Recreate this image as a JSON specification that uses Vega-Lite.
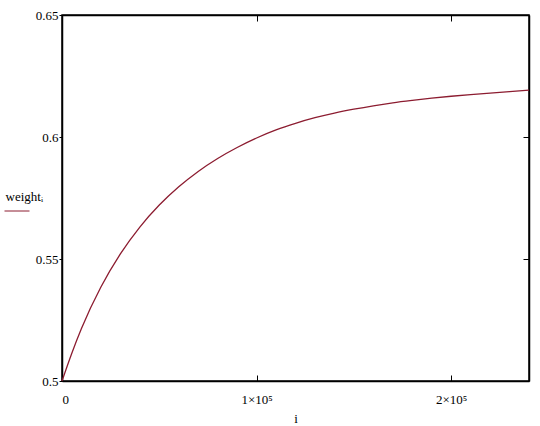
{
  "$schema": "https://vega.github.io/schema/vega-lite/v6.json",
  "autosize": "none",
  "width": 467,
  "height": 366,
  "padding": {"left": 62, "top": 15, "right": 11, "bottom": 45},
  "background": "white",
  "config": {
    "view": {"stroke": "black", "strokeWidth": 1.5},
    "font": "Liberation Serif",
    "axis": {"labelFont": "Liberation Serif", "titleFont": "Liberation Serif", "labelColor": "black", "titleColor": "black", "labelFontSize": 13, "titleFontSize": 13, "titleFontWeight": "normal", "grid": false, "domainColor": "black", "tickColor": "black", "domainWidth": 1.5, "tickWidth": 1}
  },
  "data": {"values": [
    {"i": 0, "w": 0.5},
    {"i": 5000, "w": 0.5113},
    {"i": 10000, "w": 0.5215},
    {"i": 20000, "w": 0.5385},
    {"i": 30000, "w": 0.5521},
    {"i": 40000, "w": 0.5631},
    {"i": 50000, "w": 0.5721},
    {"i": 60000, "w": 0.5796},
    {"i": 70000, "w": 0.5859},
    {"i": 80000, "w": 0.5912},
    {"i": 90000, "w": 0.5957},
    {"i": 100000, "w": 0.5996},
    {"i": 110000, "w": 0.6029},
    {"i": 120000, "w": 0.6056},
    {"i": 130000, "w": 0.6079},
    {"i": 140000, "w": 0.6098},
    {"i": 150000, "w": 0.6114},
    {"i": 160000, "w": 0.6128},
    {"i": 170000, "w": 0.614},
    {"i": 180000, "w": 0.615},
    {"i": 190000, "w": 0.6159},
    {"i": 200000, "w": 0.6167},
    {"i": 210000, "w": 0.6174},
    {"i": 220000, "w": 0.618},
    {"i": 230000, "w": 0.6186},
    {"i": 240000, "w": 0.6192}
  ]},
  "layer": [
    {
      "mark": {"type": "line", "strokeWidth": 1.3, "interpolate": "monotone"},
      "encoding": {
        "x": {"field": "i", "type": "quantitative", "scale": {"domain": [0, 240000], "nice": false, "zero": false},
          "axis": {"orient": "bottom", "title": "i", "values": [0, 100000, 200000], "tickSize": -6, "labelPadding": 18, "titlePadding": 6, "labelExpr": "datum.value == 0 ? '0' : format(datum.value/100000, 'd') + '×10⁵'"}},
        "y": {"field": "w", "type": "quantitative", "scale": {"domain": [0.5, 0.65], "nice": false, "zero": false},
          "axis": {"orient": "left", "title": "weightᵢ", "titleAngle": 0, "titleAlign": "left", "titleBaseline": "alphabetic", "titleX": -57, "titleY": 185, "values": [0.5, 0.55, 0.6, 0.65], "tickSize": 3, "labelPadding": 1, "format": ".2~f"}},
        "color": {"datum": "weight", "scale": {"range": ["#8c1c30"]},
          "legend": {"orient": "none", "legendX": -58, "legendY": 183, "title": null, "labelExpr": "''", "symbolType": "stroke", "symbolSize": 625, "symbolStrokeWidth": 1, "padding": 0, "symbolOffset": 0}}
      }
    },
    {
      "mark": {"type": "line", "opacity": 0},
      "encoding": {
        "x": {"field": "i", "type": "quantitative", "axis": {"orient": "top", "title": null, "labels": false, "values": [100000, 200000], "tickSize": -6}},
        "y": {"field": "w", "type": "quantitative", "axis": {"orient": "right", "title": null, "labels": false, "values": [0.55, 0.6], "tickSize": -6}}
      }
    }
  ],
  "resolve": {"axis": {"x": "independent", "y": "independent"}}
}
